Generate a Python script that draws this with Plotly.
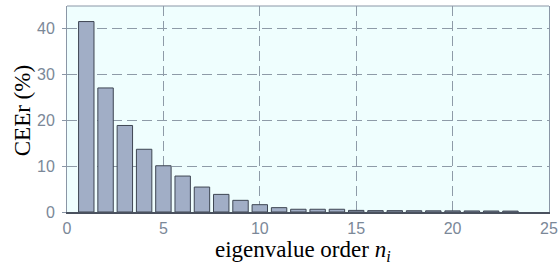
import plotly.graph_objects as go

# Data
order = list(range(1, 24))
ceer = [41.6, 27.1, 18.9, 13.7, 10.1, 7.85, 5.45, 3.85, 2.55, 1.6, 0.95,
        0.6, 0.6, 0.6, 0.35, 0.3, 0.3, 0.28, 0.26, 0.25, 0.23, 0.22, 0.2]

x_ticks = [0, 5, 10, 15, 20, 25]
y_ticks = [0, 10, 20, 30, 40]

tick_color = "#7b8898"
grid_color = "#8e9ba8"
frame_color = "#8a96a6"

fig = go.Figure()
fig.add_trace(go.Bar(
    x=order, y=ceer, width=0.8,
    marker=dict(color="#a1aec6", line=dict(color="#3e4653", width=1)),
    showlegend=False, hoverinfo="skip",
))

fig.update_layout(
    width=558, height=265,
    margin=dict(l=67, r=9, t=6, b=53, autoexpand=False),
    paper_bgcolor="white",
    plot_bgcolor="#effefe",
    font=dict(family="Liberation Sans, Arial, sans-serif", size=16, color=tick_color),
    xaxis=dict(
        range=[0, 25], tickvals=x_ticks, ticktext=[str(v) for v in x_ticks],
        showgrid=True, gridcolor=grid_color, griddash="10px,5px", gridwidth=1,
        showline=True, linecolor="#4a515e", linewidth=1.5,
        ticks="", ticklabelstandoff=1, zeroline=False,
        tickfont=dict(size=16, color=tick_color),
    ),
    yaxis=dict(
        range=[0, 45], tickvals=y_ticks, ticktext=[str(v) for v in y_ticks],
        showgrid=True, gridcolor=grid_color, griddash="10px,5px", gridwidth=1,
        showline=True, linecolor=frame_color, linewidth=1, mirror=True,
        ticks="outside", ticklen=4, tickcolor=frame_color, ticklabelstandoff=4,
        zeroline=False,
        tickfont=dict(size=16, color=tick_color),
    ),
    shapes=[dict(type="line", xref="paper", yref="paper", x0=0, x1=1, y0=1, y1=1,
                 line=dict(color=frame_color, width=1))],
    annotations=[
        dict(text="eigenvalue order <i>n</i><sub><i>i</i></sub>",
             xref="paper", yref="paper", x=0.49, y=-0.19,
             xanchor="center", yanchor="middle", showarrow=False,
             font=dict(family="Liberation Serif, Times New Roman, serif", size=23, color="black")),
        dict(text="CEEr (%)",
             xref="paper", yref="paper", x=-0.093, y=0.49,
             xanchor="center", yanchor="middle", showarrow=False, textangle=-90,
             font=dict(family="Liberation Serif, Times New Roman, serif", size=23, color="black")),
    ],
)

fig.write_html("out.html", config={"displayModeBar": False},
               post_script="document.body.style.margin='0px';document.body.style.overflow='hidden';")
